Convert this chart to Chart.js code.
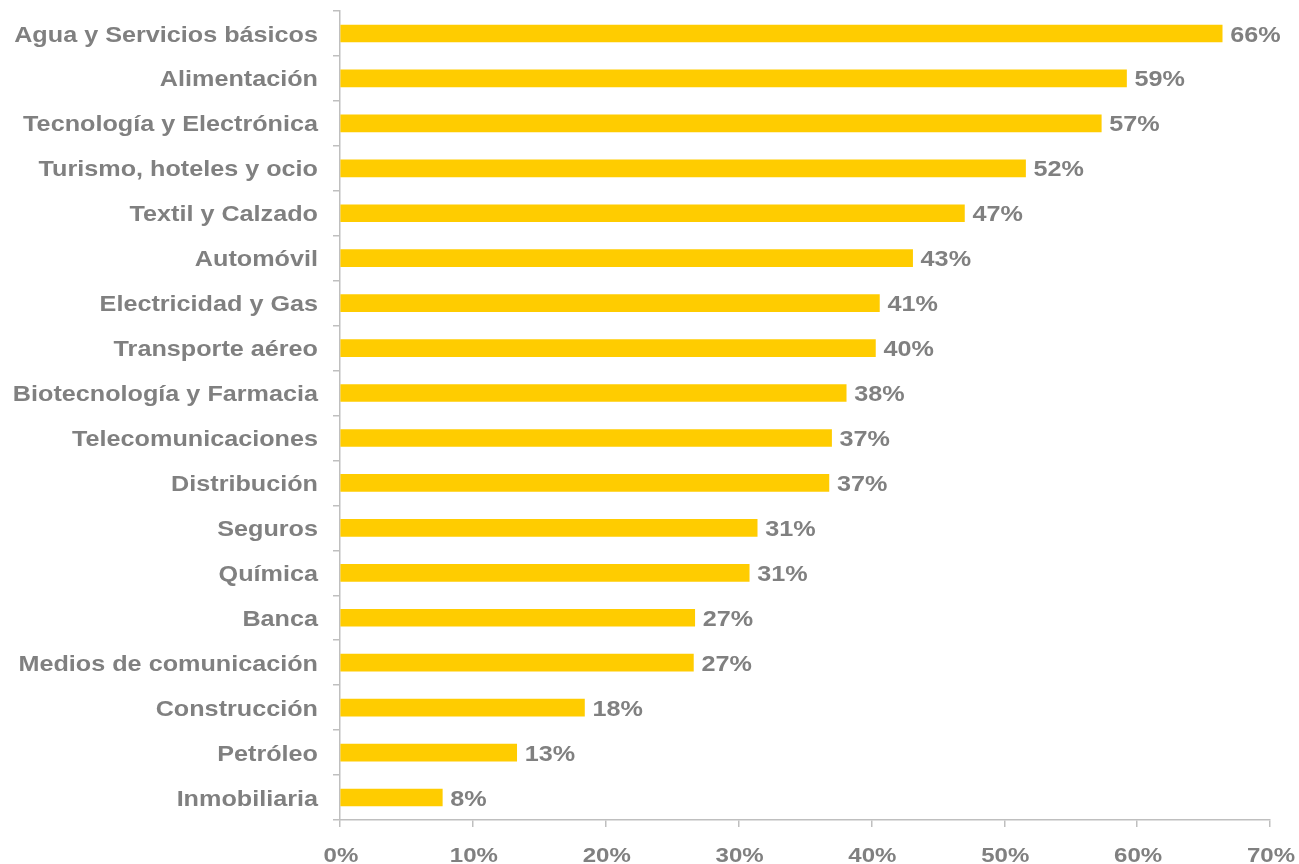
<!DOCTYPE html>
<html>
<head>
<meta charset="utf-8">
<script src="https://cdn.jsdelivr.net/npm/chart.js@4"></script>
<style>
  html, body { margin: 0; padding: 0; background: #fff; }
  #wrap { width: 1299px; height: 864px; }
</style>
</head>
<body>
<div id="wrap"><canvas id="grafico"></canvas></div>
<script>
const sectores = [
    'Agua y Servicios básicos', 'Alimentación', 'Tecnología y Electrónica',
    'Turismo, hoteles y ocio', 'Textil y Calzado', 'Automóvil',
    'Electricidad y Gas', 'Transporte aéreo', 'Biotecnología y Farmacia',
    'Telecomunicaciones', 'Distribución', 'Seguros', 'Química', 'Banca',
    'Medios de comunicación', 'Construcción', 'Petróleo', 'Inmobiliaria'
];
const porcentajes = [66.4, 59.2, 57.3, 51.6, 47.0, 43.1, 40.6, 40.3, 38.1,
    37.0, 36.8, 31.4, 30.8, 26.7, 26.6, 18.4, 13.3, 7.7];
const ticksX = [0, 10, 20, 30, 40, 50, 60, 70];

const gris = '#808080';
const estiramiento = 1.145; // el original tiene el texto ensanchado

function texto(ctx, str, x, y, align) {
    ctx.save();
    ctx.translate(x, y);
    ctx.scale(estiramiento, 1);
    ctx.textAlign = align;
    ctx.fillText(str, 0, 0);
    ctx.restore();
}

// rótulos de ejes y valores, dibujados en las posiciones de las escalas
const rotulos = {
    id: 'rotulos',
    afterDatasetsDraw(chart) {
        const ctx = chart.ctx;
        const x = chart.scales.x;
        const y = chart.scales.y;
        const meta = chart.getDatasetMeta(0);
        ctx.save();
        ctx.font = 'bold 22px "Liberation Sans", Arial, sans-serif';
        ctx.fillStyle = gris;
        ctx.textBaseline = 'middle';
        sectores.forEach((s, i) => {
            texto(ctx, s, y.right - 22, y.getPixelForValue(i) + 2, 'right');
        });
        meta.data.forEach((bar, i) => {
            texto(ctx, Math.round(porcentajes[i]) + '%', bar.x + 8, bar.y + 2, 'left');
        });
        ctx.font = 'bold 21px "Liberation Sans", Arial, sans-serif';
        ticksX.forEach(v => {
            texto(ctx, v + '%', x.getPixelForValue(v) + 1, x.top + 36, 'center');
        });
        ctx.restore();
    }
};

const ctx = document.getElementById('grafico').getContext('2d');
const grafico = new Chart(ctx, {
    type: 'bar',
    data: {
        labels: sectores,
        datasets: [{
            data: porcentajes,
            backgroundColor: '#FFCC00',
            barThickness: 17
        }]
    },
    options: {
        indexAxis: 'y',
        responsive: true,
        maintainAspectRatio: false,
        animation: false,
        layout: { padding: { top: 11, right: 29, bottom: 0, left: 0 } },
        plugins: {
            legend: { display: false },
            tooltip: { enabled: false }
        },
        scales: {
            x: {
                min: 0,
                max: 70,
                afterBuildTicks: (axis) => { axis.ticks = ticksX.map(v => ({ value: v })); },
                afterFit: (axis) => { axis.height = 44; axis.paddingLeft = 0; axis.paddingRight = 0; },
                border: { color: '#bfbfbf', width: 1.5 },
                grid: { drawOnChartArea: false, tickLength: 7, color: '#bfbfbf', lineWidth: 1.5 },
                ticks: { display: false }
            },
            y: {
                afterFit: (axis) => { axis.width = 340; axis.paddingTop = 0; axis.paddingBottom = 0; },
                border: { color: '#bfbfbf', width: 1.5 },
                grid: { drawOnChartArea: false, offset: true, tickLength: 7, color: '#bfbfbf', lineWidth: 1.5 },
                ticks: { display: false }
            }
        }
    },
    plugins: [rotulos]
});
</script>
</body>
</html>
